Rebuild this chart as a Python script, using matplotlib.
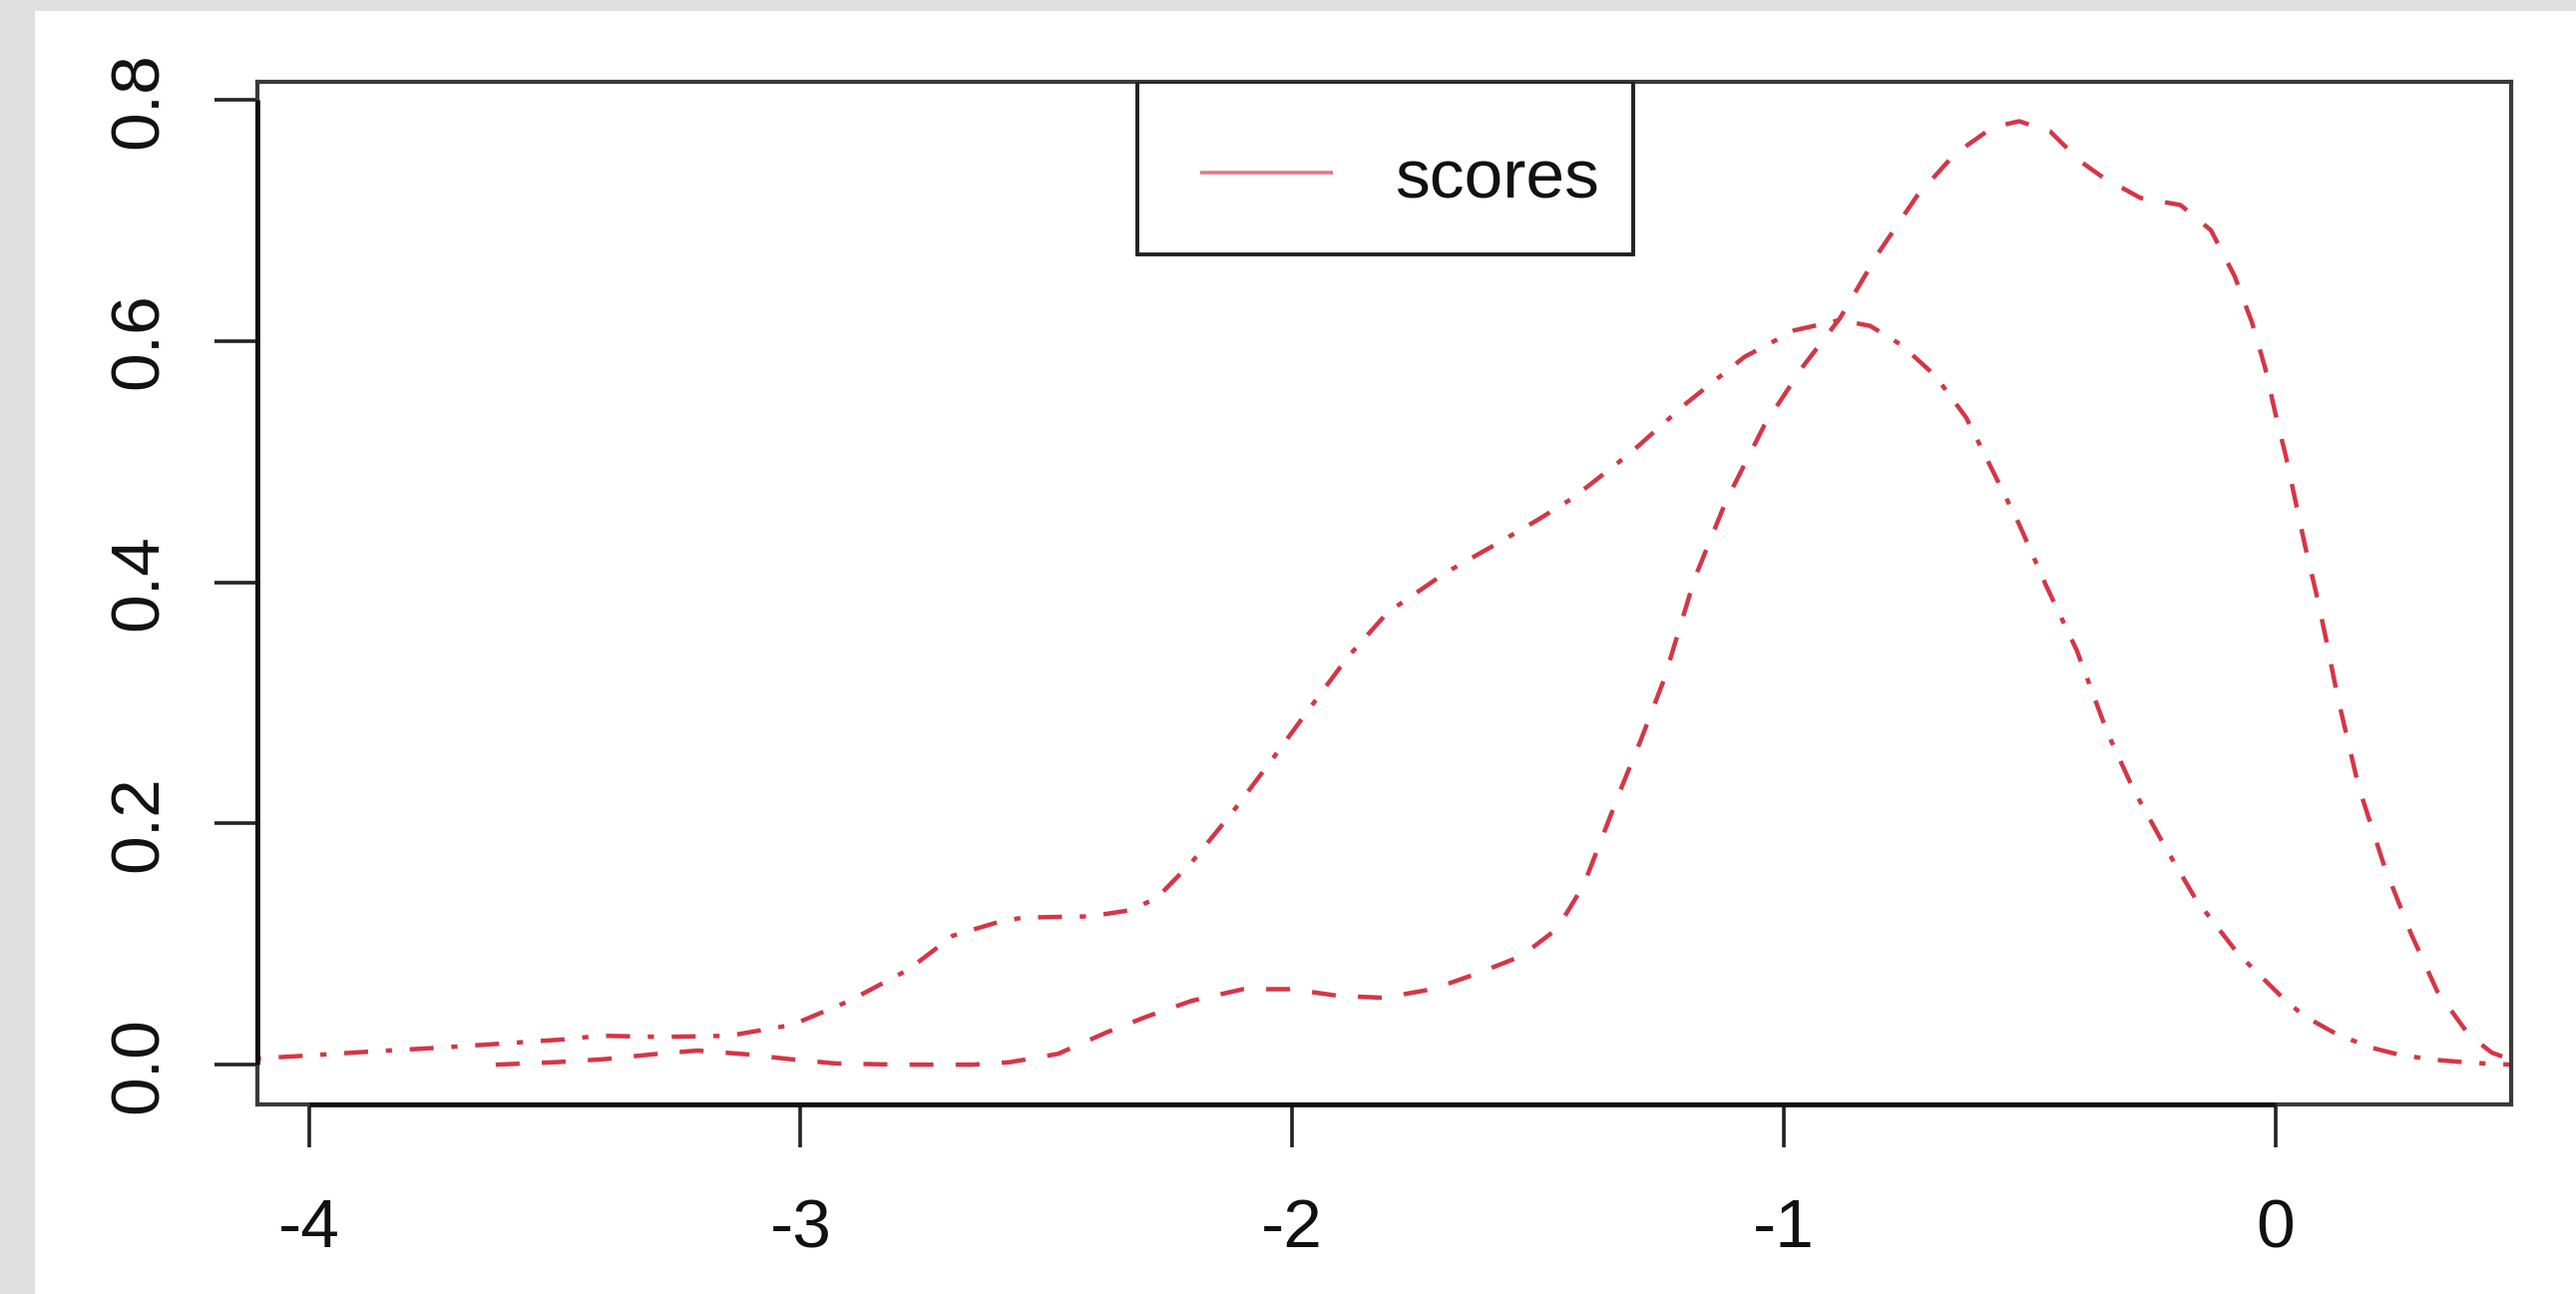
import matplotlib
matplotlib.use("Agg")
from matplotlib import pyplot as plt
from matplotlib.patches import Rectangle

plt.rcParams['font.family'] = ['Liberation Sans', 'DejaVu Sans']

# dashed density curve
dens_a_x = [-3.62, -3.50, -3.40, -3.30, -3.21, -3.11, -3.02, -2.93, -2.80, -2.65,
            -2.575, -2.476, -2.376, -2.295, -2.204, -2.10, -2.00, -1.905, -1.814,
            -1.715, -1.625, -1.534, -1.461, -1.407, -1.33, -1.29, -1.244, -1.181,
            -1.118, -1.04, -0.963, -0.886, -0.808, -0.73, -0.653, -0.575, -0.521,
            -0.458, -0.396, -0.351, -0.275, -0.193, -0.131, -0.083, -0.048, -0.021,
            0.0, 0.021, 0.041, 0.061, 0.083, 0.103, 0.126, 0.169, 0.222, 0.276,
            0.329, 0.393, 0.44, 0.48]
dens_a_y = [0.0, 0.002, 0.0045, 0.0086, 0.0117, 0.0086, 0.0045, 0.001, 0.0, 0.0,
            0.002, 0.009, 0.027, 0.040, 0.053, 0.0626, 0.0626, 0.057, 0.0555,
            0.0626, 0.0754, 0.090, 0.1127, 0.149, 0.23, 0.27, 0.319, 0.4036,
            0.467, 0.530, 0.578, 0.619, 0.673, 0.720, 0.755, 0.7775, 0.7825,
            0.774, 0.749, 0.736, 0.719, 0.713, 0.692, 0.654, 0.616, 0.578,
            0.540, 0.505, 0.467, 0.429, 0.391, 0.353, 0.306, 0.231, 0.164, 0.1085,
            0.061, 0.025, 0.010, 0.004]

# dot-dash density curve
dens_b_x = [-4.11, -4.068, -4.005, -3.87, -3.737, -3.607, -3.48, -3.407, -3.28,
            -3.145, -3.017, -2.90, -2.78, -2.69, -2.60, -2.548, -2.412, -2.331,
            -2.276, -2.204, -2.122, -2.041, -1.969, -1.887, -1.806, -1.688, -1.584,
            -1.50, -1.429, -1.313, -1.197, -1.080, -0.979, -0.886, -0.824, -0.761,
            -0.692, -0.629, -0.575, -0.521, -0.466, -0.404, -0.342, -0.289, -0.225,
            -0.161, -0.076, 0.021, 0.06, 0.126, 0.196, 0.254, 0.325, 0.40, 0.48]
dens_b_y = [0.005, 0.006, 0.0075, 0.011, 0.014, 0.0175, 0.021, 0.024, 0.023,
            0.024, 0.033, 0.053, 0.079, 0.107, 0.118, 0.122, 0.123, 0.128,
            0.138, 0.168, 0.209, 0.253, 0.293, 0.338, 0.375, 0.408, 0.432,
            0.452, 0.470, 0.507, 0.549, 0.587, 0.609, 0.6176, 0.6127, 0.597,
            0.5715, 0.5367, 0.4926, 0.448, 0.397, 0.3436, 0.2756, 0.2285, 0.181,
            0.1366, 0.092, 0.053, 0.040, 0.025, 0.014, 0.008, 0.004, 0.0015, 0.0]

x_ticks = [-4, -3, -2, -1, 0]
x_labels = ["-4", "-3", "-2", "-1", "0"]
y_ticks = [0.0, 0.2, 0.4, 0.6, 0.8]
y_labels = ["0.0", "0.2", "0.4", "0.6", "0.8"]
legend_label = "scores"

red = '#d63547'
fs = 50

fig = plt.figure(figsize=(25.82, 12.97), dpi=100)
fig.patch.set_facecolor('#e0e0e0')
fig.add_artist(Rectangle((35 / 2582, 0), 1, 1 - 11 / 1297, transform=fig.transFigure,
                         facecolor='white', edgecolor='none', zorder=0))

ax = fig.add_axes([258 / 2582, 1 - 1107 / 1297, (2517 - 258) / 2582, (1107 - 82) / 1297])
ax.set_facecolor('white')

ax.plot(dens_a_x, dens_a_y, color=red, lw=3.2, linestyle=(0, (5.4, 5.0)))
ax.plot(dens_b_x, dens_b_y, color=red, lw=3.2, linestyle=(0, (1.4, 4.0, 5.4, 4.0)))

ax.set_xlim(-4.1047, 0.4795)
ax.set_ylim(-0.033, 0.8152)

for s in ax.spines.values():
    s.set_linewidth(3.0)
    s.set_color('#3a3a3a')

# R draws its axis line from first to last tick on top of the box
ylo = ax.get_ylim()[0]
xlo = ax.get_xlim()[0]
ax.plot([x_ticks[0], x_ticks[-1]], [ylo, ylo], color='#111111', lw=3.4, clip_on=False,
        solid_capstyle='butt', zorder=5)
ax.plot([xlo, xlo], [y_ticks[0], y_ticks[-1]], color='#111111', lw=3.4, clip_on=False,
        solid_capstyle='butt', zorder=5)

ax.set_xticks(x_ticks)
ax.set_xticklabels(x_labels)
ax.set_yticks(y_ticks)
ax.set_yticklabels(y_labels, rotation=90, va='center')
ax.tick_params(axis='both', length=31, width=2.6, color='#222222', labelsize=fs,
               labelcolor='#111111')
ax.tick_params(axis='x', pad=36)
ax.tick_params(axis='y', pad=31)

# legend box, drawn by hand like R's legend("top", ...)
ax.add_patch(Rectangle((0.3904, 0.8312), 0.22, 0.1688, transform=ax.transAxes,
                       facecolor='white', edgecolor='#222222', lw=2.8, zorder=6))
ax.plot([0.4185, 0.4770], [0.9112, 0.9112], transform=ax.transAxes, color='#e07a86',
        lw=2.6, solid_capstyle='butt', zorder=7)
ax.text(0.5045, 0.886, legend_label, transform=ax.transAxes, fontsize=fs,
        color='#111111', ha='left', va='baseline', zorder=7)

fig.savefig("out.png", dpi=100, facecolor=fig.get_facecolor())
